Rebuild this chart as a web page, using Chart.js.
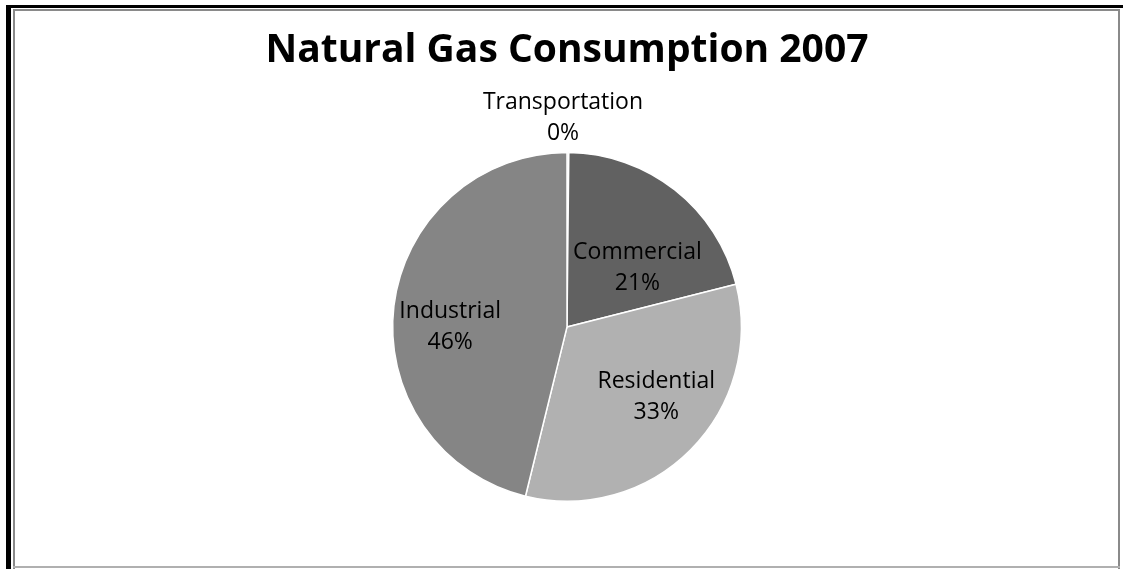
<!DOCTYPE html>
<html>
<head>
<meta charset="utf-8">
<script src="https://cdn.jsdelivr.net/npm/chart.js@4"></script>
<style>
    body { margin: 0; background: #fff; }
    #wrap { position: relative; width: 1123px; height: 569px; overflow: hidden; }
    #chart { position: absolute; left: 0; top: 0; }
    .line { position: absolute; }
</style>
</head>
<body>
<div id="wrap">
    <canvas id="chart" width="1123" height="569"></canvas>
    <!-- frame -->
    <div class="line" style="left:6px; top:5px; width:1117px; height:3px; background:#000"></div>
    <div class="line" style="left:6px; top:5px; width:5px; height:564px; background:#000"></div>
    <div class="line" style="left:13px; top:9px; width:1107px; height:2px; background:#8a8a8a"></div>
    <div class="line" style="left:13px; top:9px; width:2px; height:560px; background:#8a8a8a"></div>
    <div class="line" style="left:1118px; top:9px; width:2px; height:560px; background:#8a8a8a"></div>
    <div class="line" style="left:13px; top:566px; width:1107px; height:2px; background:#b0b0b0"></div>
</div>
<script>
// data
const categories = ['Transportation', 'Commercial', 'Residential', 'Industrial'];
const consumption = [24, 3013, 4722, 6655];
const sliceColors = ['#9a9a9a', '#616161', '#b1b1b1', '#858585'];

// label placement: share of the radius and a small turn (degrees) off the slice middle
const labelRadius = [1.2, 0.53, 0.65, 0.67];
const labelTurn = [-1.4, 11.4, -6.8, -6.8];

const total = consumption.reduce((a, b) => a + b, 0);

// labels drawn on top of the slices
const sliceLabels = {
    id: 'sliceLabels',
    afterDatasetsDraw(chart) {
        const ctx = chart.ctx;
        const arcs = chart.getDatasetMeta(0).data;
        ctx.save();
        ctx.font = '23px "Open Sans"';
        ctx.fillStyle = '#000';
        ctx.textAlign = 'center';
        ctx.textBaseline = 'middle';
        arcs.forEach((arc, i) => {
            const mid = (arc.startAngle + arc.endAngle) / 2 + labelTurn[i] * Math.PI / 180;
            const r = arc.outerRadius * labelRadius[i];
            const x = arc.x + Math.cos(mid) * r;
            const y = arc.y + Math.sin(mid) * r;
            const pct = Math.round(consumption[i] / total * 100) + '%';
            ctx.fillText(categories[i], x, y - 15);
            ctx.fillText(pct, x, y + 16);
        });
        ctx.restore();
    }
};

var ctx = document.getElementById('chart').getContext('2d');

var chart = new Chart(ctx, {
    type: 'pie',
    data: {
        labels: categories,
        datasets: [{
            data: consumption,
            backgroundColor: sliceColors,
            borderColor: '#ffffff',
            borderWidth: 1.5
        }]
    },
    options: {
        responsive: false,
        animation: false,
        layout: {
            padding: { left: 11, right: 0, top: 0, bottom: 67 }
        },
        plugins: {
            legend: { display: false },
            tooltip: { enabled: false },
            title: {
                display: true,
                text: 'Natural Gas Consumption 2007',
                color: '#000',
                font: { family: '"Open Sans"', size: 39, weight: 'bold', lineHeight: 1.2 },
                padding: { top: 27, bottom: 78 }
            }
        }
    },
    plugins: [sliceLabels]
});
</script>
</body>
</html>
